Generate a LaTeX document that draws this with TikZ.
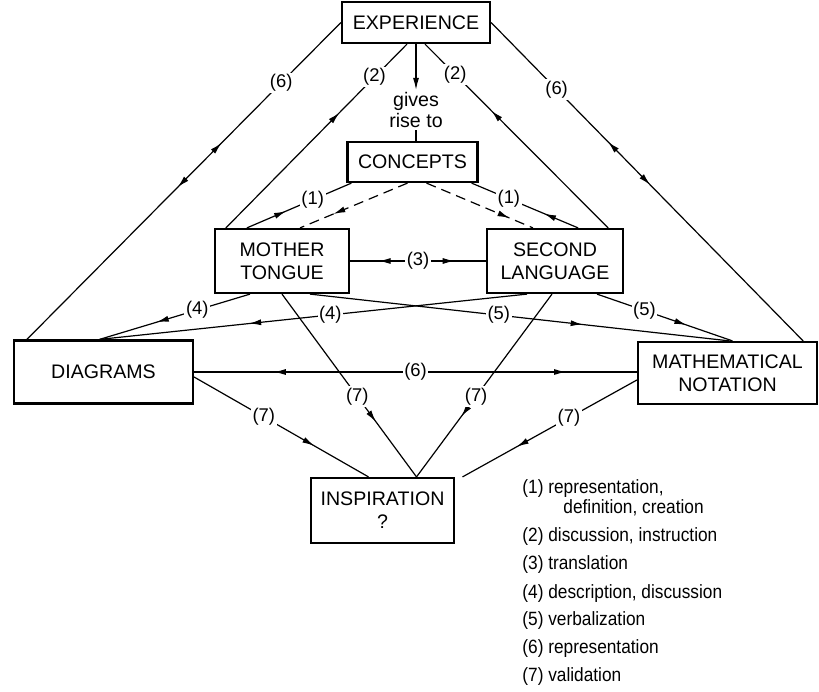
\documentclass[tikz,border=0pt]{standalone}
\usepackage{fontspec}
\setmainfont{Liberation Sans}
\newfontfamily\legendfont[FakeStretch=0.9]{Liberation Sans}
\usetikzlibrary{arrows.meta, positioning, decorations.markings}

\begin{document}
\begin{tikzpicture}[
  x=0.5pt, y=-0.5pt,
  >={Latex[length=6pt,width=3pt]},
  font=\fontsize{9.8}{11.5}\selectfont,
  box/.style={
    rectangle, draw, line width=1.1pt, align=center,
    inner sep=0pt,
  },
  lbl/.style={fill=white, inner sep=0.8pt, font=\fontsize{9.2}{10}\selectfont},
  conn/.style={line width=0.6pt},
  fwd/.style={postaction={decorate, decoration={markings, mark=at position #1 with {\arrow{>}}}}},
  bwd/.style={postaction={decorate, decoration={markings, mark=at position #1 with {\arrowreversed{>}}}}},
  legend/.style={anchor=base west, inner sep=0pt, font=\legendfont\fontsize{9.6}{10}\selectfont},
]
\useasboundingbox (0,0) rectangle (819,691);

% --- Boxes ---
\node[box, minimum width=74pt, minimum height=20.5pt] (EXP) at (416,22.5) {EXPERIENCE};
\node[box, minimum width=65pt, minimum height=20pt] (CON) at (412.5,162) {CONCEPTS};
\node[box, minimum width=67pt, minimum height=32pt] (MT) at (282,261) {MOTHER\\TONGUE};
\node[box, minimum width=68pt, minimum height=32pt] (SL) at (555,261) {SECOND\\LANGUAGE};
\node[box, minimum width=89.5pt, minimum height=31.5pt] (DIA) at (103.5,372) {DIAGRAMS};
\node[box, minimum width=89.5pt, minimum height=31pt] (MATH) at (727.5,373) {MATHEMATICAL\\NOTATION};
\node[box, minimum width=71.5pt, minimum height=32.5pt] (INS) at (382.5,510.5) {INSPIRATION\\?};
\node[align=center, inner sep=1pt, font=\fontsize{9.8}{10.5}\selectfont] (GIVES) at (416,110) {gives\\rise to};

% --- Experience links ---
\draw[conn, fwd=0.62, bwd=0.48] ([xshift=7pt]DIA.north west) -- node[lbl, pos=0.81] {(6)} (EXP.west);
\draw[conn, bwd=0.375, fwd=0.51] (EXP.east) -- node[lbl, pos=0.21] {(6)} ([xshift=-7.5pt]MATH.north east);
\draw[conn, fwd=0.63] ([xshift=6pt]MT.north west) -- node[lbl, pos=0.82] {(2)} ([xshift=-4.5pt]EXP.south);
\draw[conn, fwd=0.64] ([xshift=-8pt]SL.north east) -- node[lbl, pos=0.835] {(2)} ([xshift=4.5pt]EXP.south);
\draw[conn, ->] (EXP.south) -- (GIVES.north);
\draw[conn] (GIVES.south) -- (GIVES.south |- CON.north);

% --- Concepts links ---
\draw[conn, fwd=0.375] ([xshift=16.5pt]MT.north west) -- node[lbl, pos=0.63] {(1)} ([xshift=2.5pt]CON.south west);
\draw[conn, dash pattern=on 5pt off 3pt, fwd=0.69] ([xshift=-2.5pt]CON.south) -- ([xshift=9pt]MT.north);
\draw[conn, fwd=0.32] ([xshift=-23pt]SL.north east) -- node[lbl, pos=0.65] {(1)} ([xshift=-3.5pt]CON.south east);
\draw[conn, dash pattern=on 5pt off 3pt, fwd=0.78] ([xshift=7pt]CON.south) -- ([xshift=-11pt]SL.north);

% --- Languages ---
\draw[conn, bwd=0.21, fwd=0.77] (MT.east) -- node[lbl] {(3)} (SL.west);
\draw[conn, fwd=0.62] ([xshift=-16pt]MT.south) -- node[lbl, pos=0.35] {(4)} ([xshift=-2pt]DIA.north);
\draw[conn, fwd=0.65] ([xshift=-14pt]SL.south) -- node[lbl, pos=0.46] {(4)} ([xshift=-2pt]DIA.north);
\draw[conn, fwd=0.65] ([xshift=14pt]MT.south) -- node[lbl, pos=0.45] {(5)} ([xshift=1pt]MATH.north);
\draw[conn, fwd=0.66] ([xshift=21pt]SL.south) -- node[lbl, pos=0.35] {(5)} ([xshift=2.5pt]MATH.north);

% --- Diagrams / notation ---
\draw[conn, bwd=0.18, fwd=0.84] (DIA.east) -- node[lbl] {(6)} (DIA.east -| MATH.west);

% --- Inspiration ---
\draw[conn, fwd=0.7] (MT.south) -- node[lbl, pos=0.56] {(7)} ([xshift=17pt]INS.north);
\draw[conn, fwd=0.67] ([xshift=-1.5pt]SL.south) -- node[lbl, pos=0.56] {(7)} ([xshift=17pt]INS.north);
\draw[conn, fwd=0.69] ([yshift=-2.5pt]DIA.east) -- node[lbl, pos=0.4] {(7)} ([xshift=-7pt]INS.north);
\draw[conn, fwd=0.69] ([yshift=-3.5pt]MATH.west) -- node[lbl, pos=0.39] {(7)} ([xshift=40pt]INS.north);

% --- Legend ---
\node[legend] (L1) at (522,493) {(1) representation,};
\node[legend] (L1B) at (563,513) {definition, creation};
\node[legend] (L2) at (522,541) {(2) discussion, instruction};
\node[legend] (L3) at (522,569) {(3) translation};
\node[legend] (L4) at (522,598) {(4) description, discussion};
\node[legend] (L5) at (522,625) {(5) verbalization};
\node[legend] (L6) at (522,653) {(6) representation};
\node[legend] (L7) at (522,681) {(7) validation};

\end{tikzpicture}
\end{document}
